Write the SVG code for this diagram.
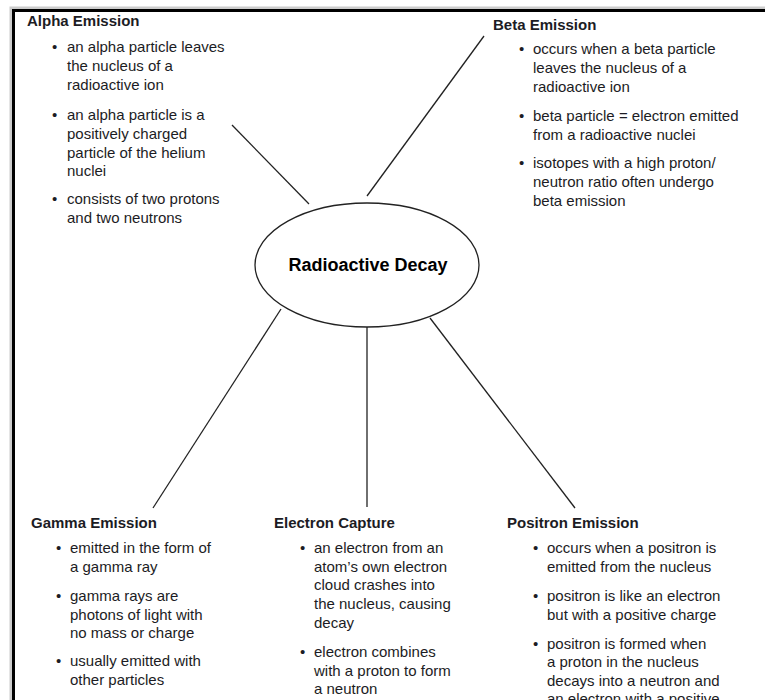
<svg xmlns="http://www.w3.org/2000/svg" width="765" height="700" viewBox="0 0 765 700">
<style>
text{font-family:"Liberation Sans",Arial,sans-serif;font-size:15px;fill:#1c1c24}
.h{font-weight:bold;font-size:15px}
.t{font-weight:bold;font-size:18px;fill:#000}
.c{stroke:#222;stroke-width:1.3;fill:none}
</style>
<rect width="765" height="700" fill="#fff"/>
<rect x="11" y="8" width="800" height="800" fill="none" stroke="#ccc" stroke-width="3"/>
<rect x="13.5" y="10.5" width="800" height="800" fill="none" stroke="#000" stroke-width="3"/>
<g id="connectors">
<line class="c" x1="232" y1="125" x2="309" y2="204"/>
<line class="c" x1="484" y1="36" x2="367" y2="196"/>
<line class="c" x1="281" y1="309" x2="153" y2="508"/>
<line class="c" x1="367" y1="327" x2="367" y2="507"/>
<line class="c" x1="430" y1="318" x2="575" y2="508"/>
</g>
<g id="center">
<ellipse cx="367" cy="265" rx="112" ry="62" fill="#fff" stroke="#222" stroke-width="1.3"/>
<text class="t" x="368" y="271" text-anchor="middle">Radioactive Decay</text>
</g>
<g id="alpha">
<text class="h" x="27" y="26">Alpha Emission</text>
<text x="52" y="52">•</text>
<text x="67" y="52">an alpha particle leaves</text>
<text x="67" y="71">the nucleus of a</text>
<text x="67" y="90">radioactive ion</text>
<text x="52" y="120">•</text>
<text x="67" y="120">an alpha particle is a</text>
<text x="67" y="139">positively charged</text>
<text x="67" y="158">particle of the helium</text>
<text x="67" y="176">nuclei</text>
<text x="52" y="204">•</text>
<text x="67" y="204">consists of two protons</text>
<text x="67" y="223">and two neutrons</text>
</g>
<g id="beta">
<text class="h" x="493" y="30">Beta Emission</text>
<text x="519" y="54">•</text>
<text x="533" y="54">occurs when a beta particle</text>
<text x="533" y="73">leaves the nucleus of a</text>
<text x="533" y="92">radioactive ion</text>
<text x="519" y="121">•</text>
<text x="533" y="121">beta particle = electron emitted</text>
<text x="533" y="140">from a radioactive nuclei</text>
<text x="519" y="168">•</text>
<text x="533" y="168">isotopes with a high proton/</text>
<text x="533" y="187">neutron ratio often undergo</text>
<text x="533" y="206">beta emission</text>
</g>
<g id="gamma">
<text class="h" x="31" y="528">Gamma Emission</text>
<text x="56" y="553">•</text>
<text x="70" y="553">emitted in the form of</text>
<text x="70" y="572">a gamma ray</text>
<text x="56" y="601">•</text>
<text x="70" y="601">gamma rays are</text>
<text x="70" y="620">photons of light with</text>
<text x="70" y="638">no mass or charge</text>
<text x="56" y="666">•</text>
<text x="70" y="666">usually emitted with</text>
<text x="70" y="685">other particles</text>
</g>
<g id="capture">
<text class="h" x="274" y="528">Electron Capture</text>
<text x="300" y="553">•</text>
<text x="314" y="553">an electron from an</text>
<text x="314" y="572">atom’s own electron</text>
<text x="314" y="590">cloud crashes into</text>
<text x="314" y="609">the nucleus, causing</text>
<text x="314" y="628">decay</text>
<text x="300" y="657">•</text>
<text x="314" y="657">electron combines</text>
<text x="314" y="676">with a proton to form</text>
<text x="314" y="694">a neutron</text>
</g>
<g id="positron">
<text class="h" x="507" y="528">Positron Emission</text>
<text x="533" y="553">•</text>
<text x="547" y="553">occurs when a positron is</text>
<text x="547" y="572">emitted from the nucleus</text>
<text x="533" y="601">•</text>
<text x="547" y="601">positron is like an electron</text>
<text x="547" y="620">but with a positive charge</text>
<text x="533" y="649">•</text>
<text x="547" y="649">positron is formed when</text>
<text x="547" y="667">a proton in the nucleus</text>
<text x="547" y="686">decays into a neutron and</text>
<text x="547" y="704">an electron with a positive</text>
</g>
</svg>
